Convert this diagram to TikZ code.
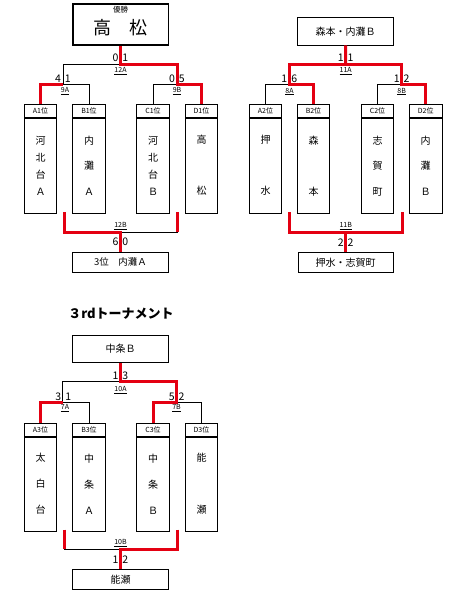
\documentclass[tikz,border=0pt]{standalone}
\usepackage{fontspec}
\setmainfont{Noto Sans CJK JP}
\definecolor{winred}{RGB}{228,0,18}

\begin{document}
\begin{tikzpicture}[x=1pt, y=-1pt,
    win/.style={draw=winred, line width=3pt},
    lose/.style={draw=black, line width=0.8pt},
    teamhead/.style={draw, line width=0.8pt, minimum width=32.5pt, minimum height=13pt, inner sep=0pt, anchor=north, font=\fontsize{7}{8}\selectfont},
    teambody/.style={draw, line width=0.8pt, minimum width=32.5pt, inner sep=0pt, anchor=north, align=center},
    result/.style={draw, line width=0.8pt, minimum width=95.6pt, inner sep=0pt, font=\fontsize{9.5}{11}\selectfont},
    score/.style={inner sep=0pt, font=\fontsize{10.5}{12}\selectfont},
    gameno/.style={inner sep=0pt, font=\fontsize{7}{8}\selectfont}]
    \useasboundingbox (0,0) rectangle (448,597);

    % ===== 1st tournament (left) =====
    \node[draw, line width=1.6pt, minimum width=95.6pt, minimum height=41pt, inner sep=0pt,
          font=\fontsize{18}{20}\selectfont, text height=20.6pt, text depth=0pt,
          label={[font=\fontsize{7.5}{8}\selectfont, anchor=north, inner sep=0pt, yshift=-2.5pt]north:優勝}]
          (champ1) at (120.5,24.5) {高　松};
    \foreach \tid/\xpos/\gap/\tname in {A1/40.5/17/{河\\北\\台\\Ａ}, B1/89/25.5/{内\\灘\\Ａ},
                                       C1/153/17/{河\\北\\台\\Ｂ}, D1/201.5/51/{高\\松}} {
        \node[teamhead] (h\tid) at (\xpos,104) {\tid{}位};
        \node[teambody, minimum height=95pt, font=\fontsize{10}{\gap}\selectfont] (\tid) at (h\tid.south) {\tname};
    }
    \node[result, minimum height=20pt] (third1) at (120.5,262) {3位　内灘Ａ};

    \coordinate (f1) at (120.5,64);
    \coordinate (s1a) at (63,84);
    \coordinate (s1b) at (177,84);
    \coordinate (l1a) at (64,212);
    \coordinate (l1b) at (177.5,212);
    \coordinate (t1) at (120.5,232);

    % losers
    \draw[lose] (hB1.north) -- (hB1.north |- s1a) -- (s1a) -- (s1a |- f1) -- (f1);
    \draw[lose] (hC1.north) -- (hC1.north |- s1b) -- (s1b);
    \draw[lose] (t1) -- (l1b |- t1);
    % winners
    \draw[win] (hA1.north) -- (hA1.north |- s1a) -- (s1a);
    \draw[win] (hD1.north) -- (hD1.north |- s1b) -- (s1b) -- (s1b |- f1) -- (f1) -- (champ1.south);
    \draw[win] (l1a) -- (l1a |- t1) -- (t1) -- (third1.north);
    \draw[win] (l1b) -- (l1b |- t1);

    % scores and game numbers
    \node[score] at (120.5,58) {0\hspace{4pt}1};
    \node[gameno] at (120.5,71) {\underline{12A}};
    \node[score] at (63,79) {4\hspace{4pt}1};
    \node[gameno] at (65,91) {\underline{9A}};
    \node[score] at (177,79) {0\hspace{4pt}5};
    \node[gameno] at (177,91) {\underline{9B}};
    \node[gameno] at (120.5,226) {\underline{12B}};
    \node[score] at (120.5,242) {6\hspace{4pt}0};

    % ===== 2nd tournament (right) =====
    \node[result, minimum height=27.7pt, font=\fontsize{10}{12}\selectfont] (top2) at (345.5,31.2) {森本・内灘Ｂ};
    \foreach \tid/\xpos/\gap/\tname in {A2/265.5/51/{押\\水}, B2/313.5/51/{森\\本},
                                       C2/377.5/25.5/{志\\賀\\町}, D2/425.7/25.5/{内\\灘\\Ｂ}} {
        \node[teamhead] (h\tid) at (\xpos,104) {\tid{}位};
        \node[teambody, minimum height=95pt, font=\fontsize{10}{\gap}\selectfont] (\tid) at (h\tid.south) {\tname};
    }
    \node[result, minimum height=20pt, font=\fontsize{10}{12}\selectfont] (third2) at (345.7,262.3) {押水・志賀町};

    \coordinate (f2) at (345.7,64);
    \coordinate (s2a) at (289.3,84);
    \coordinate (s2b) at (401.7,84);
    \coordinate (l2a) at (289.3,212);
    \coordinate (l2b) at (402.3,212);
    \coordinate (t2) at (345.7,232);

    \draw[lose] (hA2.north) -- (hA2.north |- s2a) -- (s2a);
    \draw[lose] (hC2.north) -- (hC2.north |- s2b) -- (s2b);
    \draw[win] (hB2.north) -- (hB2.north |- s2a) -- (s2a) -- (s2a |- f2) -- (s2b |- f2) -- (s2b) -- (hD2.north |- s2b) -- (hD2.north);
    \draw[win] (f2) -- (top2.south);
    \draw[win] (l2a) -- (l2a |- t2) -- (l2b |- t2) -- (l2b);
    \draw[win] (t2) -- (third2.north);

    \node[score] at (345.7,58) {1\hspace{4pt}1};
    \node[gameno] at (345.7,71) {\underline{11A}};
    \node[score] at (289.3,79) {1\hspace{4pt}6};
    \node[gameno] at (289.5,91.5) {\underline{8A}};
    \node[score] at (401.7,79) {1\hspace{4pt}2};
    \node[gameno] at (401.7,91.5) {\underline{8B}};
    \node[gameno] at (345.7,226) {\underline{11B}};
    \node[score] at (345.7,242.5) {2\hspace{4pt}2};

    % ===== 3rd tournament =====
    \node[inner sep=0pt, font=\fontsize{13}{15}\selectfont\bfseries] (title3) at (121,313.3) {３rdトーナメント};
    \node[result, minimum height=27.3pt, font=\fontsize{10}{12}\selectfont] (top3) at (120.5,348.6) {中条Ｂ};
    \foreach \tid/\xpos/\gap/\tname in {A3/40.5/26/{太\\白\\台}, B3/89/26/{中\\条\\Ａ},
                                       C3/153/26/{中\\条\\Ｂ}, D3/201.5/51.6/{能\\瀬}} {
        \node[teamhead] (h\tid) at (\xpos,422.7) {\tid{}位};
        \node[teambody, minimum height=94pt, font=\fontsize{10}{\gap}\selectfont] (\tid) at (h\tid.south) {\tname};
    }
    \node[result, minimum height=19.7pt, font=\fontsize{10}{12}\selectfont] (third3) at (120.5,579.2) {能瀬};

    \coordinate (f3) at (120.5,381.7);
    \coordinate (s3a) at (62.7,402.7);
    \coordinate (s3b) at (176.7,402.7);
    \coordinate (l3a) at (64.3,529.7);
    \coordinate (l3b) at (177.3,529.7);
    \coordinate (t3) at (120.5,549);

    \draw[lose] (hB3.north) -- (hB3.north |- s3a) -- (s3a) -- (s3a |- f3) -- (f3);
    \draw[lose] (hD3.north) -- (hD3.north |- s3b) -- (s3b);
    \draw[lose] (l3a |- t3) -- (t3);
    \draw[win] (hA3.north) -- (hA3.north |- s3a) -- (s3a);
    \draw[win] (hC3.north) -- (hC3.north |- s3b) -- (s3b) -- (s3b |- f3) -- (f3) -- (top3.south);
    \draw[win] (l3a) -- (l3a |- t3);
    \draw[win] (l3b) -- (l3b |- t3) -- (t3) -- (third3.north);

    \node[score] at (120.5,376) {1\hspace{4pt}3};
    \node[gameno] at (120.5,390) {\underline{10A}};
    \node[score] at (63.3,396.7) {3\hspace{4pt}1};
    \node[gameno] at (65,408) {\underline{7A}};
    \node[score] at (176.7,396.7) {5\hspace{4pt}2};
    \node[gameno] at (176.5,408) {\underline{7B}};
    \node[gameno] at (120.5,542.7) {\underline{10B}};
    \node[score] at (120.5,560) {1\hspace{4pt}2};
\end{tikzpicture}
\end{document}
